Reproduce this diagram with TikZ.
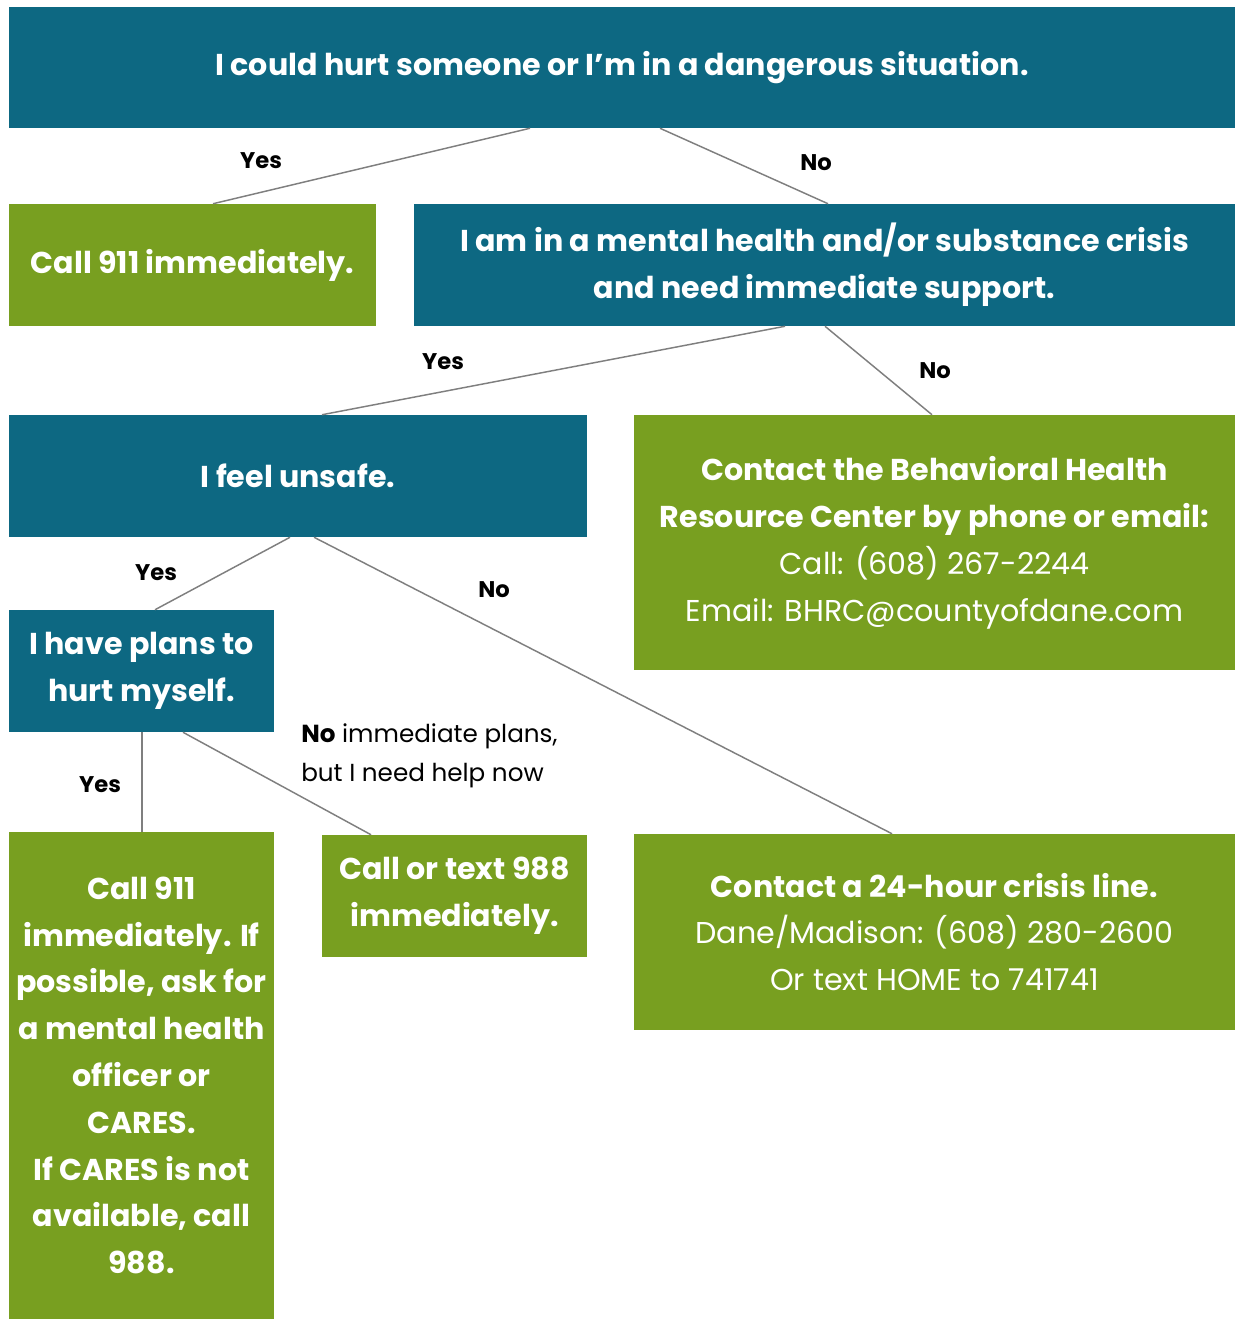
\documentclass[tikz,border=0pt]{standalone}
\usepackage{fontspec}
\setmainfont{Poppins}
\usepackage{tikz}
\usetikzlibrary{positioning}
\definecolor{cq}{HTML}{0D6882}
\definecolor{ca}{HTML}{789F20}
\definecolor{clink}{HTML}{7F7F7F}
\tikzset{
  box/.style={inner sep=0pt, align=center, text=white, font=\fontsize{22.6}{35.2}\selectfont\bfseries},
  qbox/.style={box, fill=cq},
  abox/.style={box, fill=ca},
  link/.style={draw=clink, line width=1.1pt},
  ans/.style={font=\fontsize{17}{20}\selectfont\bfseries, text=black},
  hint/.style={font=\fontsize{18.5}{29}\selectfont, text=black, align=left, anchor=west, inner sep=0pt},
}

\begin{document}
\begin{tikzpicture}[x=0.75pt,y=-0.75pt]
\useasboundingbox (0,0) rectangle (1235,1320);
% questions
\node[qbox, minimum width=919.5pt, minimum height=90.75pt] (danger) at (622,67.5) {I could hurt someone or I’m in a dangerous situation.};
\node[qbox, minimum width=615.75pt, minimum height=91.5pt] (crisis) at (824.5,265) {I am in a mental health and/or substance crisis\\and need immediate support.};
\node[qbox, minimum width=433.5pt, minimum height=91.5pt] (unsafe) at (298,476) {I feel unsafe.};
\node[qbox, minimum width=198.75pt, minimum height=91.5pt] (plans) at (141.5,671) {I have plans to\\hurt myself.};
% answers
\node[abox, minimum width=275.25pt, minimum height=91.5pt] (call911) at (192.5,265) {Call 911 immediately.};
\node[abox, minimum width=450.75pt, minimum height=191.25pt] (bhrc) at (934.5,542.5) {Contact the Behavioral Health\\Resource Center by phone or email:\\\mdseries Call: (608) 267-2244\\\mdseries Email: BHRC@countyofdane.com};
\node[abox, minimum width=198.75pt, minimum height=365.25pt, font=\fontsize{22.6}{35.1}\selectfont\bfseries] (officer) at (141.5,1075.5) {Call 911\\immediately. If\\possible, ask for\\a mental health\\officer or\\CARES.\\If CARES is not\\available, call\\988.};
\node[abox, minimum width=198.75pt, minimum height=91.5pt] (call988) at (454.5,896) {Call or text 988\\immediately.};
\node[abox, minimum width=450.75pt, minimum height=147pt] (hotline) at (934.5,932) {Contact a 24-hour crisis line.\\\mdseries Dane/Madison: (608) 280-2600\\\mdseries Or text HOME to 741741};
% connectors
\draw[link] (danger.south -| 530,0) -- (call911.north -| 213,0);
\draw[link] (danger.south -| 660,0) -- (crisis.north -| 828,0);
\draw[link] (crisis.south -| 785,0) -- (unsafe.north -| 322,0);
\draw[link] (crisis.south -| 825,0) -- (bhrc.north -| 932,0);
\draw[link] (unsafe.south -| 290,0) -- (plans.north -| 155,0);
\draw[link] (unsafe.south -| 314,0) -- (hotline.north -| 892,0);
\draw[link] (plans.south -| 142,0) -- (officer.north -| 142,0);
\draw[link] (plans.south -| 183,0) -- (call988.north -| 371,0);
% labels
\node[ans] (y1) at (261,161) {Yes};
\node[ans] (n1) at (816,163) {No};
\node[ans] (y2) at (443,362) {Yes};
\node[ans] (n2) at (935,371) {No};
\node[ans] (y3) at (156,573) {Yes};
\node[ans] (n3) at (494,590) {No};
\node[ans] (y4) at (100,785) {Yes};
\node[hint] (n4) at (301,756) {\textbf{No} immediate plans,\\but I need help now};
\end{tikzpicture}
\end{document}
